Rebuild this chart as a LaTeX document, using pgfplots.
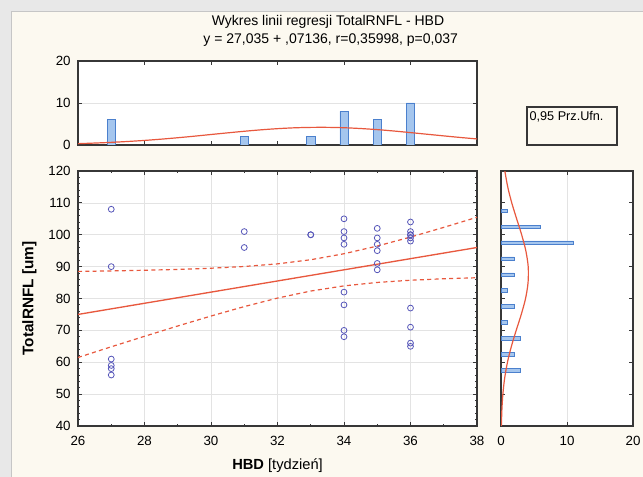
\documentclass[border=0pt]{standalone}
\usepackage{pgfplots}
\usepackage{pgfplotstable}
\pgfplotsset{compat=1.18}
\usepackage{fontspec}
\setmainfont{Liberation Sans}
\definecolor{cream}{RGB}{252,249,240}
\definecolor{ptblue}{RGB}{85,85,185}
\definecolor{regred}{RGB}{232,88,62}
\definecolor{barfill}{RGB}{165,198,238}
\definecolor{bardraw}{RGB}{75,128,205}
\definecolor{framec}{RGB}{55,55,55}

\pgfplotstableread{
x y
27 108
27 90
27 61
27 59
27 58
27 56
31 101
31 96
33 100
33 100
34 105
34 101
34 99
34 97
34 82
34 78
34 70
34 68
35 102
35 99
35 97
35 95
35 91
35 89
36 104
36 101
36 100
36 100
36 99
36 98
36 77
36 71
36 66
36 65
}\scatterdata

\pgfplotsset{panel/.style={
  scale only axis,
  axis background/.style={fill=white},
  axis line style={framec,line width=0.9pt},
  tick style={framec,line width=0.7pt},
  major tick length=3pt, minor tick length=1.6pt,
  tick align=inside,
  grid style={gray!22,line width=0.4pt},
  tick label style={font=\fontsize{10}{12}\selectfont},
  /pgf/number format/assume math mode=true,
}}

\begin{document}
\begin{tikzpicture}
\path[use as bounding box] (0,0) rectangle (482.25pt,-357.75pt);
\fill[cream] (0,0) rectangle (482.25pt,-357.75pt);
\fill[gray!18] (0,0) rectangle (482.25pt,-8.5pt);
\fill[gray!18] (0,0) rectangle (8.5pt,-357.75pt);
\draw[gray!45,line width=0.8pt] (8.5pt,-357.75pt) -- (8.5pt,-8.5pt) -- (482.25pt,-8.5pt);

\node[font=\fontsize{10.5}{12}\selectfont] at (246pt,-16.5pt) {Wykres linii regresji TotalRNFL - HBD};
\node[font=\fontsize{10.5}{12}\selectfont] at (248pt,-30pt) {y = 27,035 + ,07136, r=0,35998, p=0,037};

% top histogram
\begin{axis}[panel,
  at={(58.5pt,-108.75pt)}, anchor=south west,
  width=299.25pt, height=63pt,
  xmin=26, xmax=38, ymin=0, ymax=20,
  xtick={26,28,...,38}, xticklabels={},
  ytick={0,10,20},
  ymajorgrids,
  yticklabel style={xshift=-2pt},
]
\addplot[ybar, bar width=0.25, fill=barfill, draw=bardraw, line width=0.5pt]
  coordinates {(27,6) (31,2) (33,2) (34,8) (35,6) (36,10)};
\addplot[regred, line width=0.9pt, smooth] coordinates {
(26,0.32) (26.5,0.46) (27,0.63) (27.5,0.84) (28,1.09) (28.5,1.39) (29,1.73)
(29.5,2.10) (30,2.50) (30.5,2.89) (31,3.27) (31.5,3.61) (32,3.89) (32.5,4.09)
(33,4.19) (33.5,4.20) (34,4.11) (34.5,3.92) (35,3.66) (35.5,3.33) (36,2.95)
(36.5,2.56) (37,2.17) (37.5,1.79) (38,1.44)};
\end{axis}

% main scatter
\begin{axis}[panel,
  at={(58.5pt,-319.5pt)}, anchor=south west,
  width=299.25pt, height=191.25pt,
  xmin=26, xmax=38, ymin=40, ymax=120,
  xtick={26,28,...,38}, ytick={40,50,...,120},
  minor x tick num=1, minor y tick num=4,
  grid=major,
  xticklabel style={yshift=-4pt},
  yticklabel style={xshift=-2pt},
  xlabel={\textbf{HBD} [tydzień]},
  ylabel={\textbf{TotalRNFL [um]}},
  x label style={at={(axis description cs:0.5,-0.157)}, anchor=center, font=\fontsize{11}{13}\selectfont},
  y label style={at={(axis description cs:-0.122,0.5)}, anchor=center, font=\fontsize{11.5}{13}\selectfont},
]
\addplot[regred, line width=0.9pt, dashed, dash pattern=on 3pt off 2.5pt] coordinates {
(26,88.5) (27,88.65) (28,88.86) (29,89.12) (30,89.5) (31,90.04) (32,90.87)
(33,92.16) (34,94.04) (35,96.46) (36,99.27) (37,102.31) (38,105.49)};
\addplot[regred, line width=0.9pt, dashed, dash pattern=on 3pt off 2.5pt] coordinates {
(26,61.5) (27,64.85) (28,68.14) (29,71.38) (30,74.5) (31,77.46) (32,80.13)
(33,82.34) (34,83.96) (35,85.04) (36,85.73) (37,86.19) (38,86.51)};
\addplot[regred, line width=1pt] coordinates {(26,75) (38,96)};
\addplot[only marks, mark=o, mark size=2.2pt, mark options={ptblue, line width=0.6pt}]
  table[x=x,y=y] {\scatterdata};
\end{axis}

% right histogram
\begin{axis}[panel,
  at={(375.75pt,-319.5pt)}, anchor=south west,
  width=99pt, height=191.25pt,
  xmin=0, xmax=20, ymin=40, ymax=120,
  xtick={0,10,20}, ytick={40,50,...,120}, yticklabels={},
  xmajorgrids,
  xticklabel style={yshift=-4pt},
]
\addplot[xbar, bar width=1.1, fill=barfill, draw=bardraw, line width=0.5pt]
  coordinates {(3,57.5) (2,62.5) (3,67.5) (1,72.5) (2,77.5) (1,82.5) (2,87.5) (2,92.5) (11,97.5) (6,102.5) (1,107.5)};
\addplot[regred, line width=0.9pt, smooth] coordinates {
(0.057,40) (0.133,45) (0.284,50) (0.553,55) (0.979,60) (1.575,65) (2.30,70)
(3.07,75) (3.72,80) (4.10,85) (4.12,90) (3.76,95) (3.13,100) (2.37,105)
(1.63,110) (1.02,115) (0.582,120)};
\end{axis}

\draw[framec, line width=0.8pt, fill=cream] (395.25pt,-80.25pt) rectangle (462.75pt,-108.75pt);
\node[anchor=west, font=\fontsize{9.5}{11}\selectfont, inner sep=0pt] at (397pt,-87.75pt) {0,95 Prz.Ufn.};
\end{tikzpicture}
\end{document}
